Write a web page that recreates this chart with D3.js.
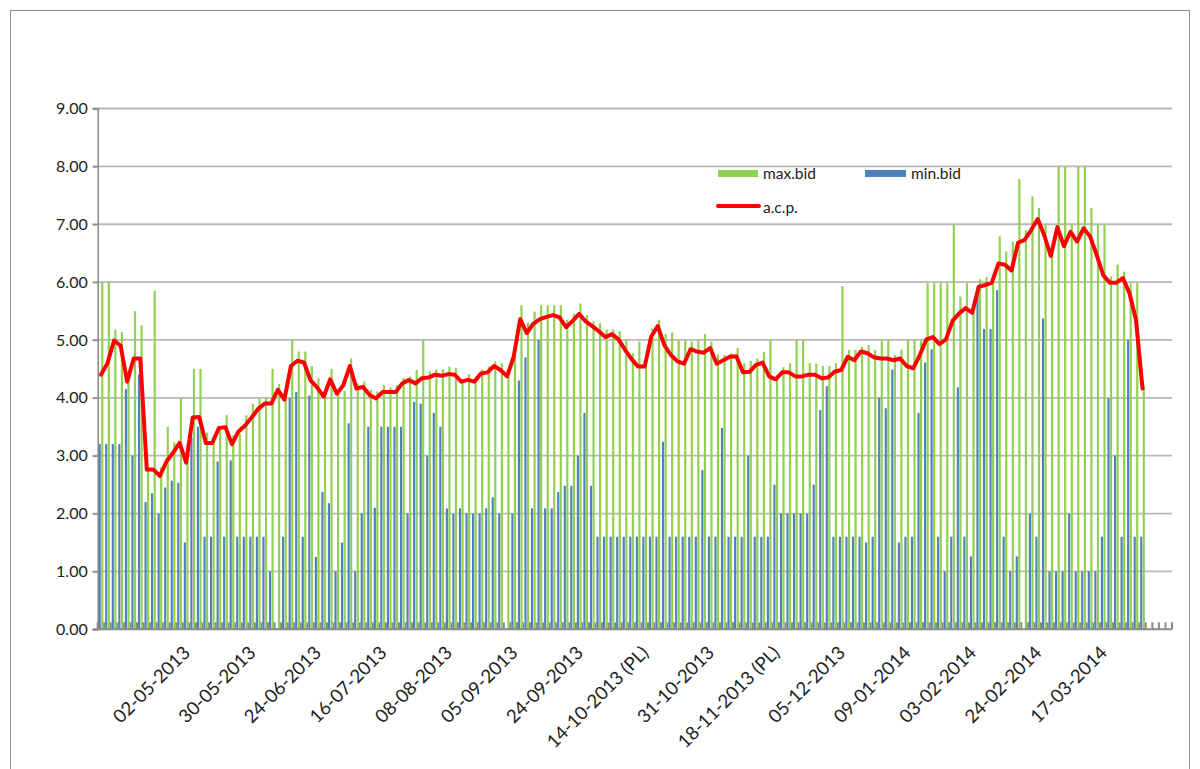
<!DOCTYPE html>
<html>
<head>
<meta charset="utf-8">
<script src="https://cdn.jsdelivr.net/npm/d3@7/dist/d3.min.js"></script>
<style>
  body { margin: 0; background: #fff; }
  svg { display: block; }
  text { font-family: Lato, 'Open Sans', sans-serif; fill: #222; }
</style>
</head>
<body>
<div id="chart"></div>
<script>
// max bid per auction
const maxBid = [
  6.0, 6.0, 5.18, 5.14, 4.3, 5.5, 5.25, 2.8, 5.85, 2.8,
  3.5, 3.23, 4.0, 2.95, 4.5, 4.5, 3.4, 3.35, 3.5, 3.7,
  3.35, 3.37, 3.7, 3.9, 3.99, 4.0, 4.5, 4.24, 4.0, 5.0,
  4.8, 4.8, 4.55, 4.34, 4.05, 4.5, 4.1, 4.12, 4.68, 4.25,
  4.28, 4.14, 4.11, 4.22, 4.18, 4.22, 4.34, 4.37, 4.48, 5.0,
  4.46, 4.49, 4.49, 4.54, 4.52, 4.31, 4.41, 4.31, 4.49, 4.54,
  4.63, 4.6, 4.37, 4.71, 5.6, 5.3, 5.49, 5.6, 5.6, 5.6,
  5.6, 5.35, 5.45, 5.63, 5.43, 5.32, 5.29, 5.18, 5.18, 5.15,
  5.0, 4.77, 4.97, 4.55, 5.2, 5.35, 5.1, 5.13, 4.99, 5.0,
  4.97, 5.0, 5.1, 4.97, 4.75, 4.74, 4.77, 4.86, 4.6, 4.64,
  4.68, 4.79, 5.0, 4.39, 4.53, 4.6, 5.0, 5.0, 4.6, 4.59,
  4.55, 4.55, 4.6, 5.93, 4.83, 4.83, 4.88, 4.91, 4.83, 5.0,
  5.0, 4.74, 4.83, 5.0, 5.0, 5.0, 5.98, 5.98, 5.98, 5.98,
  6.99, 5.75, 5.98, 5.55, 6.05, 6.09, 6.05, 6.79, 6.53, 6.7,
  7.78, 6.9, 7.48, 7.28, 7.0, 6.6, 8.0, 8.0, 6.99, 8.0,
  8.0, 7.28, 6.99, 6.99, 6.1, 6.3, 6.18, 5.98, 5.98, 4.2
];

// min bid per auction (null = no bar)
const minBid = [
  3.2, 3.2, 3.2, 3.2, 4.15, 3.0, 4.4, 2.2, 2.35, 2.0,
  2.45, 2.57, 2.53, 1.5, 3.32, 3.5, 1.6, 1.6, 2.9, 1.6,
  2.92, 1.6, 1.6, 1.6, 1.6, 1.6, 1.0, null, 1.6, 4.0,
  4.1, 1.6, 4.04, 1.25, 2.37, 2.18, 1.0, 1.5, 3.56, 1.0,
  2.0, 3.5, 2.1, 3.5, 3.5, 3.5, 3.5, 2.0, 3.93, 3.9,
  3.0, 3.74, 3.5, 2.09, 2.0, 2.09, 2.0, 2.0, 2.0, 2.09,
  2.28, 2.0, null, 2.0, 4.3, 4.7, 2.09, 5.0, 2.09, 2.09,
  2.37, 2.48, 2.48, 3.0, 3.74, 2.48, 1.6, 1.6, 1.6, 1.6,
  1.6, 1.6, 1.6, 1.6, 1.6, 1.6, 3.24, 1.6, 1.6, 1.6,
  1.6, 1.6, 2.75, 1.6, 1.6, 3.48, 1.6, 1.6, 1.6, 3.0,
  1.6, 1.6, 1.6, 2.5, 2.0, 2.0, 2.0, 2.0, 2.0, 2.5,
  3.79, 4.2, 1.6, 1.6, 1.6, 1.6, 1.6, 1.5, 1.6, 4.0,
  3.82, 4.49, 1.5, 1.6, 1.6, 3.74, 4.61, 4.84, 1.6, 1.0,
  1.6, 4.18, 1.6, 1.26, 5.92, 5.19, 5.19, 5.86, 1.6, 1.0,
  1.26, null, 2.0, 1.6, 5.37, 1.0, 1.0, 1.0, 2.0, 1.0,
  1.0, 1.0, 1.0, 1.6, 3.99, 3.0, 1.6, 5.0, 1.6, 1.6
];

// a.c.p. per auction
const acp = [
  4.4, 4.6, 4.99, 4.9, 4.28, 4.68, 4.68, 2.76, 2.76, 2.65,
  2.9, 3.05, 3.22, 2.88, 3.66, 3.67, 3.22, 3.22, 3.48, 3.49,
  3.2, 3.42, 3.52, 3.66, 3.81, 3.9, 3.9, 4.14, 3.97, 4.55,
  4.64, 4.61, 4.3, 4.18, 4.02, 4.32, 4.07, 4.22, 4.55, 4.16,
  4.19, 4.05, 3.99, 4.1, 4.1, 4.1, 4.25, 4.31, 4.25, 4.34,
  4.35, 4.4, 4.38, 4.41, 4.4, 4.28, 4.31, 4.28, 4.42, 4.44,
  4.55, 4.48, 4.37, 4.71, 5.36, 5.12, 5.28, 5.36, 5.4, 5.43,
  5.39, 5.22, 5.33, 5.45, 5.32, 5.24, 5.15, 5.05, 5.1, 5.01,
  4.83, 4.67, 4.54, 4.54, 5.06, 5.24, 4.91, 4.74, 4.63, 4.59,
  4.84, 4.8, 4.78, 4.86, 4.59, 4.65, 4.71, 4.72, 4.44, 4.45,
  4.57, 4.61, 4.37, 4.32, 4.44, 4.44, 4.37, 4.37, 4.4, 4.4,
  4.34, 4.35, 4.45, 4.48, 4.71, 4.65, 4.8, 4.77, 4.7, 4.68,
  4.68, 4.65, 4.68, 4.55, 4.51, 4.74, 5.01, 5.05, 4.93, 5.01,
  5.33, 5.46, 5.55, 5.47, 5.92, 5.95, 5.99, 6.32, 6.3, 6.2,
  6.68, 6.73, 6.9, 7.09, 6.81, 6.45, 6.95, 6.62, 6.87, 6.7,
  6.93, 6.79, 6.47, 6.12, 5.99, 5.99, 6.07, 5.81, 5.35, 4.16
];

// empty slots left on the axis after the last auction
const emptySlots = 4;

const tickLabels = [
  '02-05-2013', '30-05-2013', '24-06-2013', '16-07-2013', '08-08-2013',
  '05-09-2013', '24-09-2013', '14-10-2013 (PL)', '31-10-2013', '18-11-2013 (PL)',
  '05-12-2013', '09-01-2014', '03-02-2014', '24-02-2014', '17-03-2014'
];
const firstLabel = 14;
const labelStep = 10;

const yTicks = d3.range(0, 10);

const W = 1200, H = 769;
const plot = { left: 97.7, right: 1172, top: 108.5, bottom: 629.3 };

const svg = d3.select('#chart').append('svg')
  .attr('width', W)
  .attr('height', H);

// chart border
svg.append('rect')
  .attr('x', 10.5).attr('y', 10.5)
  .attr('width', 1179).attr('height', 800)
  .attr('fill', 'none')
  .attr('stroke', '#8c8c8c')
  .attr('stroke-width', 1);

const n = maxBid.length + emptySlots;
const x = d3.scaleBand()
  .domain(d3.range(n))
  .range([plot.left, plot.right])
  .padding(0);
const bw = x.bandwidth();

const xs = d3.scaleBand()
  .domain(['min', 'max'])
  .range([bw * 0.14, bw * 0.86])
  .paddingInner(0.15);

const y = d3.scaleLinear()
  .domain([0, 9])
  .range([plot.bottom, plot.top]);

// gridlines
svg.append('g')
  .selectAll('line')
  .data(yTicks.filter(d => d > 0))
  .join('line')
  .attr('x1', plot.left - 5)
  .attr('x2', plot.right)
  .attr('y1', d => y(d))
  .attr('y2', d => y(d))
  .attr('stroke', '#b8b8b8')
  .attr('stroke-width', 1.8);

// y axis
const yAxis = svg.append('g')
  .attr('transform', `translate(${plot.left},0)`)
  .call(d3.axisLeft(y)
    .tickValues(yTicks)
    .tickFormat(d3.format('.2f'))
    .tickSize(5)
    .tickPadding(5));
yAxis.select('.domain').attr('stroke', '#8a8a8a').attr('stroke-width', 1.5);
yAxis.selectAll('.tick line').attr('stroke', '#8a8a8a').attr('stroke-width', 1.5);
yAxis.selectAll('.tick text')
  .style('font-size', '16px')
  .style('font-family', 'Lato, sans-serif')
  .attr('fill', '#1a1a1a');

const idx = d3.range(maxBid.length);

// min.bid bars
svg.append('g')
  .selectAll('rect')
  .data(idx.filter(i => minBid[i] != null))
  .join('rect')
  .attr('x', i => x(i) + xs('min'))
  .attr('width', xs.bandwidth())
  .attr('y', i => y(minBid[i]))
  .attr('height', i => y(0) - y(minBid[i]))
  .attr('fill', '#4f81bd');

// max.bid bars
svg.append('g')
  .selectAll('rect')
  .data(idx)
  .join('rect')
  .attr('x', i => x(i) + xs('max'))
  .attr('width', xs.bandwidth())
  .attr('y', i => y(maxBid[i]))
  .attr('height', i => y(0) - y(maxBid[i]))
  .attr('fill', '#92d050');

// x axis tick marks between categories (inside)
svg.append('g')
  .selectAll('line')
  .data(d3.range(n + 1))
  .join('line')
  .attr('x1', i => plot.left + i * x.step())
  .attr('x2', i => plot.left + i * x.step())
  .attr('y1', plot.bottom - 7)
  .attr('y2', plot.bottom)
  .attr('stroke', '#8a8a8a')
  .attr('stroke-width', 2);

svg.append('line')
  .attr('x1', plot.left - 5)
  .attr('x2', plot.right)
  .attr('y1', plot.bottom)
  .attr('y2', plot.bottom)
  .attr('stroke', '#8a8a8a')
  .attr('stroke-width', 2);

// a.c.p. line
const line = d3.line()
  .defined(d => d != null)
  .x((d, i) => x(i) + bw / 2)
  .y(d => y(d));

svg.append('path')
  .datum(acp)
  .attr('d', line)
  .attr('fill', 'none')
  .attr('stroke', '#ff0000')
  .attr('stroke-width', 4)
  .attr('stroke-linejoin', 'round')
  .attr('stroke-linecap', 'round');

// category labels
svg.append('g')
  .selectAll('text')
  .data(tickLabels)
  .join('text')
  .attr('transform', (d, j) => {
    const cx = x(firstLabel + j * labelStep) + bw / 2;
    return `translate(${cx - 6},${plot.bottom + 20}) rotate(-45)`;
  })
  .attr('text-anchor', 'end')
  .attr('dy', '0.35em')
  .style('font-size', '18.5px')
  .text(d => d);

// legend
const legend = svg.append('g').style('font-size', '15.5px');
legend.append('rect')
  .attr('x', 718).attr('y', 170).attr('width', 40).attr('height', 7)
  .attr('fill', '#92d050');
legend.append('text').attr('x', 763).attr('y', 179).text('max.bid');
legend.append('rect')
  .attr('x', 865).attr('y', 170).attr('width', 41).attr('height', 7)
  .attr('fill', '#4f81bd');
legend.append('text').attr('x', 911).attr('y', 179).text('min.bid');
legend.append('line')
  .attr('x1', 718).attr('x2', 759).attr('y1', 206).attr('y2', 206)
  .attr('stroke', '#ff0000').attr('stroke-width', 4)
  .attr('stroke-linecap', 'round');
legend.append('text').attr('x', 763).attr('y', 213).text('a.c.p.');
</script>
</body>
</html>
